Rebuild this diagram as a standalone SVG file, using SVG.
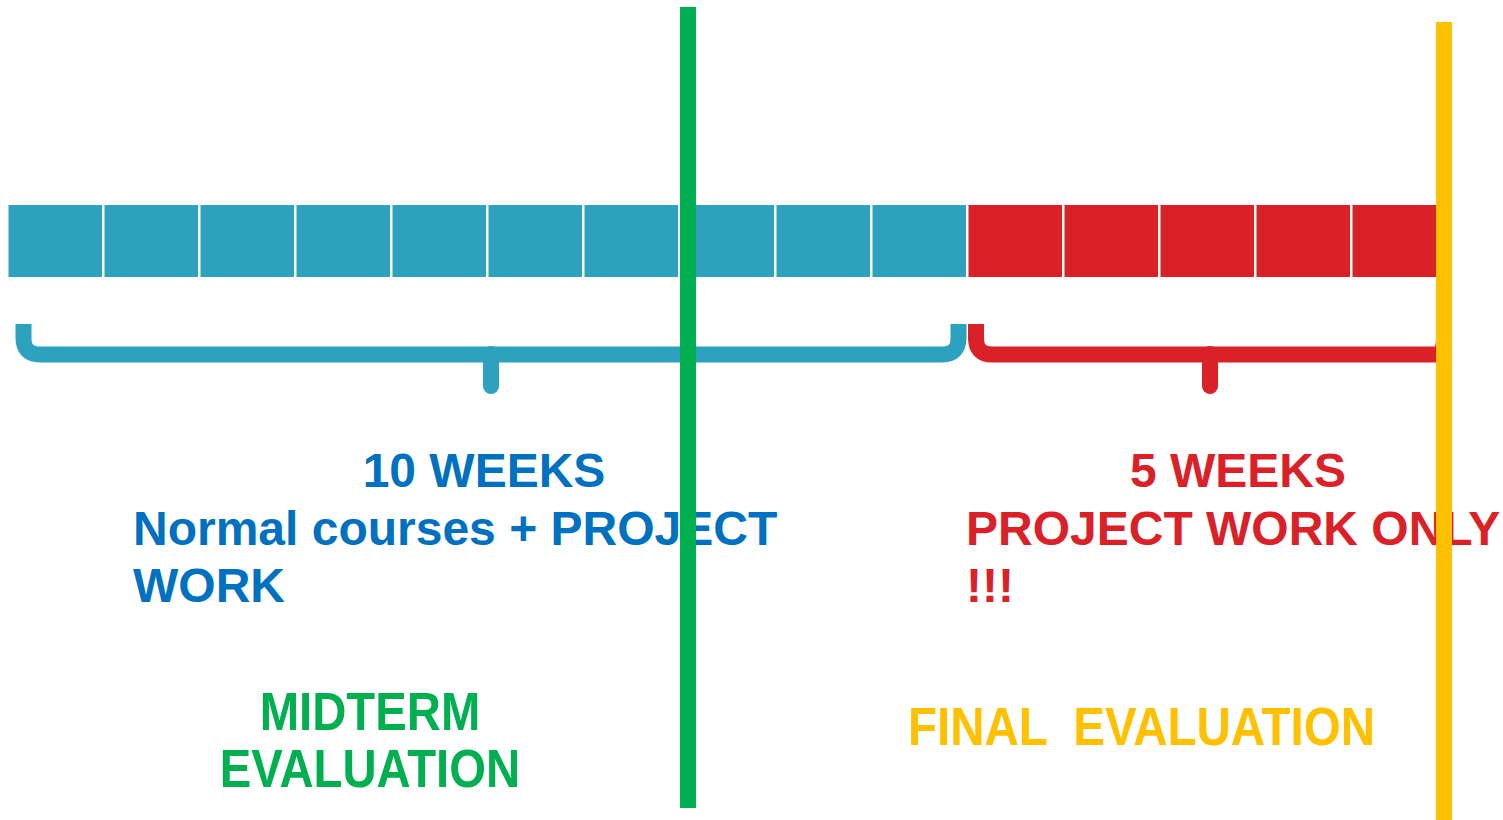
<svg xmlns="http://www.w3.org/2000/svg" width="1503" height="820" viewBox="0 0 1503 820">
<style>
.b{fill:#2DA2BF}
.r{fill:#DA2128}
.t{font-family:"Liberation Sans",Arial,sans-serif;font-weight:bold;font-size:48px}
.brace{fill:none;stroke-width:16;stroke-linejoin:round}
</style>
<rect width="1503" height="820" fill="#fff"/>
<g id="bar">
<rect class="b" x="8.5" y="205" width="93.5" height="72"/>
<rect class="b" x="104.5" y="205" width="93.5" height="72"/>
<rect class="b" x="200.5" y="205" width="93.5" height="72"/>
<rect class="b" x="296.5" y="205" width="93.5" height="72"/>
<rect class="b" x="392.5" y="205" width="93.5" height="72"/>
<rect class="b" x="488.5" y="205" width="93.5" height="72"/>
<rect class="b" x="584.5" y="205" width="93.5" height="72"/>
<rect class="b" x="680.5" y="205" width="93.5" height="72"/>
<rect class="b" x="776.5" y="205" width="93.5" height="72"/>
<rect class="b" x="872.5" y="205" width="93.5" height="72"/>
<rect class="r" x="968.5" y="205" width="93.5" height="72"/>
<rect class="r" x="1064.5" y="205" width="93.5" height="72"/>
<rect class="r" x="1160.5" y="205" width="93.5" height="72"/>
<rect class="r" x="1256.5" y="205" width="93.5" height="72"/>
<rect class="r" x="1352.5" y="205" width="90" height="72"/>
</g>
<g id="brace-blue">
<path class="brace" stroke="#2DA2BF" d="M23.5,324 V338 Q23.5,354.5 40,354.5 H942 Q958.5,354.5 958.5,338 V324"/>
<path d="M491,354 V386" stroke="#2DA2BF" stroke-width="16" stroke-linecap="round"/>
</g>
<g id="brace-red">
<path class="brace" stroke="#DA2128" d="M976,324 V338 Q976,354.5 992,354.5 H1436 Q1444,354.5 1444,338 V324"/>
<path d="M1210,354 V386" stroke="#DA2128" stroke-width="16" stroke-linecap="round"/>
</g>
<g id="label-10weeks" class="t" fill="#0070C0">
<text x="484" y="487" text-anchor="middle">10 WEEKS</text>
<text x="133" y="545">Normal courses + PROJECT</text>
<text x="133" y="602">WORK</text>
</g>
<g id="label-5weeks" class="t" fill="#DA2128">
<text x="1238" y="487" text-anchor="middle">5 WEEKS</text>
<text x="966" y="545">PROJECT WORK ONLY</text>
<text x="966" y="602">!!!</text>
</g>
<g id="label-midterm" fill="#00B050">
<text class="t" style="font-size:47.3px" text-anchor="middle" transform="translate(370,730) scale(1,1.12)">MIDTERM</text>
<text class="t" style="font-size:47.3px" text-anchor="middle" transform="translate(370,787) scale(1,1.12)">EVALUATION</text>
</g>
<g id="label-final" fill="#FFC000">
<text class="t" style="font-size:47.5px" xml:space="preserve" transform="translate(908,745) scale(1,1.12)">FINAL  EVALUATION</text>
</g>
<g id="connectors">
<rect id="midterm-line" x="680" y="7" width="16" height="801" fill="#00B050"/>
<rect id="final-line" x="1436" y="22" width="16" height="798" fill="#FFC000"/>
</g>
</svg>
